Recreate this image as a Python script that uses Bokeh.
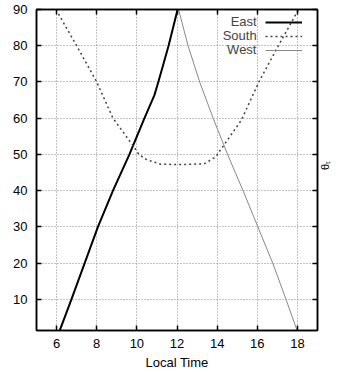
import math
from bokeh.plotting import figure
from bokeh.models import LinearAxis, Range1d, SingleIntervalTicker, Legend, LegendItem
from bokeh.embed import file_html
from bokeh.resources import INLINE

# Data
east_t = [6.16, 6.74, 7.40, 8.06, 8.81, 9.63, 10.38, 10.87, 11.07, 11.58, 12.03]
east_theta = [1.46, 10, 20, 30, 40, 50, 60, 66.3, 70, 80, 90]
south_t = [5.97, 7.0, 8.0, 8.81, 9.85, 10.1, 10.5, 11.2, 12.2, 13.35, 13.93, 14.1, 15.2, 16.08, 17.05, 18.06]
south_theta = [90, 80, 70, 60, 52.1, 50.0, 48.5, 47.3, 47.2, 47.4, 49.3, 50.7, 59.4, 70, 80, 90]
west_t = [12.08, 12.55, 13.13, 13.8, 14.52, 15.29, 16.03, 16.77, 17.43, 17.98]
west_theta = [90, 80, 70, 60, 50, 40, 30, 20, 10, 1.46]
series_names = ["East", "South", "West"]

x_ticks_interval = 2
y_ticks_interval = 10
FONT = "Liberation Sans"

p = figure(width=339, height=372, x_range=Range1d(5, 19), y_range=Range1d(1.4, 90),
           output_backend="svg", toolbar_location=None,
           min_border_left=36, min_border_right=21, min_border_top=9, min_border_bottom=42)
p.outline_line_color = "black"
p.outline_line_width = 1.5
p.outline_line_alpha = 1.0

top = LinearAxis()
right = LinearAxis(axis_label="θₜ")
p.add_layout(top, "above")
p.add_layout(right, "right")

for ax in p.xaxis:
    ax.ticker = SingleIntervalTicker(interval=x_ticks_interval, num_minor_ticks=0)
for ax in p.yaxis:
    ax.ticker = SingleIntervalTicker(interval=y_ticks_interval, num_minor_ticks=0)

for ax in list(p.xaxis) + list(p.yaxis):
    ax.major_tick_in = 5
    ax.major_tick_out = 0
    ax.minor_tick_in = 0
    ax.minor_tick_out = 0
    ax.axis_line_color = "black"
    ax.axis_line_width = 1.5
    ax.major_tick_line_color = "black"
    ax.major_tick_line_width = 1.5
    ax.major_label_text_font = FONT
    ax.major_label_text_font_size = "13px"
    ax.major_label_text_color = "black"
    ax.axis_label_text_font = FONT
    ax.axis_label_text_font_size = "13px"
    ax.axis_label_text_font_style = "normal"
    ax.axis_label_text_color = "black"

# mirror axes: ticks only
for ax in (top, right):
    ax.major_label_text_color = None
    ax.major_label_text_font_size = "1px"
    ax.major_label_standoff = 0
right.axis_label_standoff = 7
right.axis_label_text_font_size = "11px"
right.axis_label_orientation = math.pi / 2

bottom = p.below[0]
bottom.axis_label = "Local Time"
bottom.major_label_standoff = 8
bottom.axis_label_standoff = 4
p.left[0].major_label_standoff = 9

p.xgrid.grid_line_color = "#888888"
p.xgrid.grid_line_dash = "1 2"
p.ygrid.grid_line_color = "#888888"
p.ygrid.grid_line_dash = "1 2"

r_east = p.line(east_t, east_theta, line_color="black", line_width=2)
r_south = p.line(south_t, south_theta, line_color="#444444", line_width=1.5, line_dash="2 3")
r_west = p.line(west_t, west_theta, line_color="#888888", line_width=1)
renderers = [r_east, r_south, r_west]

# Legend samples (gnuplot style: text on the left, sample on the right)
samples = Legend(items=[LegendItem(label=" ", renderers=[r]) for r in renderers],
                 location=(229, 273), padding=0, spacing=0, margin=0,
                 glyph_width=37, glyph_height=14, label_height=14, label_standoff=0,
                 label_text_font=FONT, label_text_font_size="13px",
                 border_line_color=None, background_fill_alpha=0)
p.add_layout(samples)

# Legend texts, right-aligned to the left of the samples
text_x = [194.7, 186.7, 191.1]
text_y = [301, 287, 273]
for n, r, tx, ty in zip(series_names, renderers, text_x, text_y):
    lg = Legend(items=[LegendItem(label=n, renderers=[r])],
                location=(tx, ty), padding=0, spacing=0, margin=0,
                glyph_width=0, glyph_height=14, label_height=14, label_standoff=0,
                label_text_font=FONT, label_text_font_size="13px",
                border_line_color=None, background_fill_alpha=0)
    p.add_layout(lg)

open("out.html", "w").write(file_html(p, INLINE))
